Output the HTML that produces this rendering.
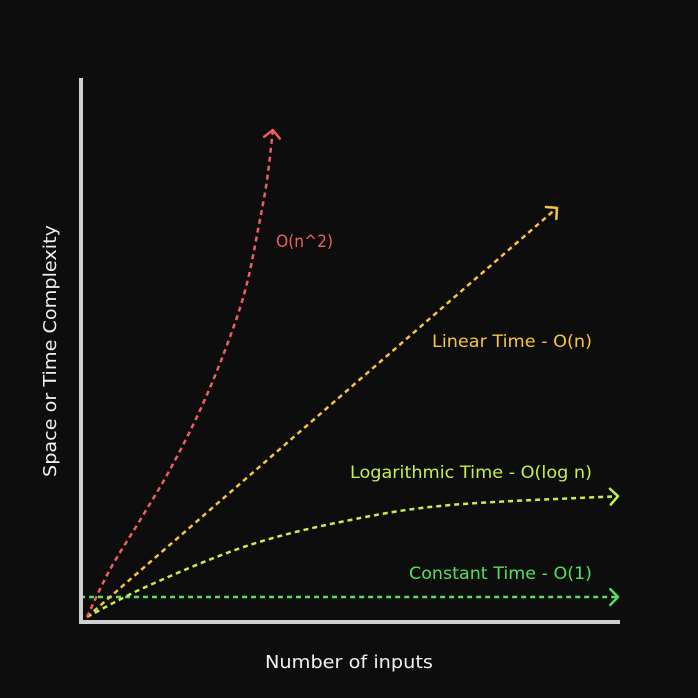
<!DOCTYPE html>
<html><head><meta charset="utf-8"><style>
html,body{margin:0;padding:0;background:#0d0d0d;}
svg{display:block;font-family:"DejaVu Sans","Liberation Sans",sans-serif;}
</style></head><body>
<svg id="chart" width="698" height="698" viewBox="0 0 698 698">
<rect width="698" height="698" fill="#0d0d0d"/>
<g id="series"></g>
<line x1="81" y1="78" x2="81" y2="624" stroke="#cfcfcf" stroke-width="4"/>
<line x1="79" y1="622" x2="620" y2="622" stroke="#cfcfcf" stroke-width="4"/>
<text x="56" y="351" transform="rotate(-90 56 351)" text-anchor="middle" fill="#f0f0f0" font-size="17.5" textLength="252" lengthAdjust="spacingAndGlyphs">Space or Time Complexity</text>
<text x="349" y="668" text-anchor="middle" fill="#f0f0f0" font-size="17.5" textLength="168" lengthAdjust="spacingAndGlyphs">Number of inputs</text>
<text x="276" y="247" fill="#f0605a" font-size="16.5" textLength="57" lengthAdjust="spacingAndGlyphs">O(n^2)</text>
<text x="432" y="347" fill="#f5c542" font-size="16.5" textLength="160" lengthAdjust="spacingAndGlyphs">Linear Time - O(n)</text>
<text x="350" y="478" fill="#c4f050" font-size="16.5" textLength="242" lengthAdjust="spacingAndGlyphs">Logarithmic Time - O(log n)</text>
<text x="409" y="579" fill="#55e060" font-size="16.5" textLength="183" lengthAdjust="spacingAndGlyphs">Constant Time - O(1)</text>
</svg>
<script>
const quadX=[0,4.3,10.0,15.6,21.3,26.0,29.8,32.2,33.9,35.0];
const quadY=[0,9.7,19.9,30.2,42.5,54.8,67.1,79.5,89.7,100];
const linX=[0,88.5];
const linY=[0,84.0];
const logX=[0,11.9,30.7,49.5,68.4,100];
const logY=[0,6.6,14.8,19.9,23.0,24.8];
const constX=[-1.3,100];
const constY=[4.1,4.1];
function sx(v){return 87+v*5.31;}
function sy(v){return 617-v*4.87;}
const NS='http://www.w3.org/2000/svg';
const g=document.getElementById('series');
function smooth(pts){
  let d='M'+pts[0][0].toFixed(1)+','+pts[0][1].toFixed(1);
  for(let i=0;i<pts.length-1;i++){
    const p0=pts[Math.max(0,i-1)],p1=pts[i],p2=pts[i+1],p3=pts[Math.min(pts.length-1,i+2)];
    const c1=[p1[0]+(p2[0]-p0[0])/6,p1[1]+(p2[1]-p0[1])/6];
    const c2=[p2[0]-(p3[0]-p1[0])/6,p2[1]-(p3[1]-p1[1])/6];
    d+=' C'+c1.map(v=>v.toFixed(1)).join(',')+' '+c2.map(v=>v.toFixed(1)).join(',')+' '+p2.map(v=>v.toFixed(1)).join(',');
  }
  return d;
}
function draw(xs,ys,color,name){
  const pts=xs.map((x,i)=>[sx(x),sy(ys[i])]);
  const p=document.createElementNS(NS,'path');
  p.setAttribute('d',smooth(pts));
  p.setAttribute('fill','none');p.setAttribute('stroke',color);
  p.setAttribute('stroke-width','2.5');p.setAttribute('stroke-dasharray','5 4');
  
  
  g.appendChild(p);
  const a=pts[pts.length-1],b=pts[pts.length-2];
  const ang=Math.atan2(a[1]-b[1],a[0]-b[0]);
  const L=11,s=0.8;
  const h=document.createElementNS(NS,'path');
  const p1=[a[0]-L*Math.cos(ang-s),a[1]-L*Math.sin(ang-s)];
  const p2=[a[0]-L*Math.cos(ang+s),a[1]-L*Math.sin(ang+s)];
  h.setAttribute('d','M'+p1.join(',')+' L'+a.join(',')+' L'+p2.join(','));
  h.setAttribute('fill','none');h.setAttribute('stroke',color);h.setAttribute('stroke-width','2.5');
  h.setAttribute('stroke-linecap','round');h.setAttribute('stroke-linejoin','round');
  
  
  g.appendChild(h);
}
draw(constX,constY,'#55e060','constant');
draw(logX,logY,'#c4f050','logarithmic');
draw(linX,linY,'#f5c542','linear');
draw(quadX,quadY,'#f0605a','quadratic');
</script>
</body></html>
